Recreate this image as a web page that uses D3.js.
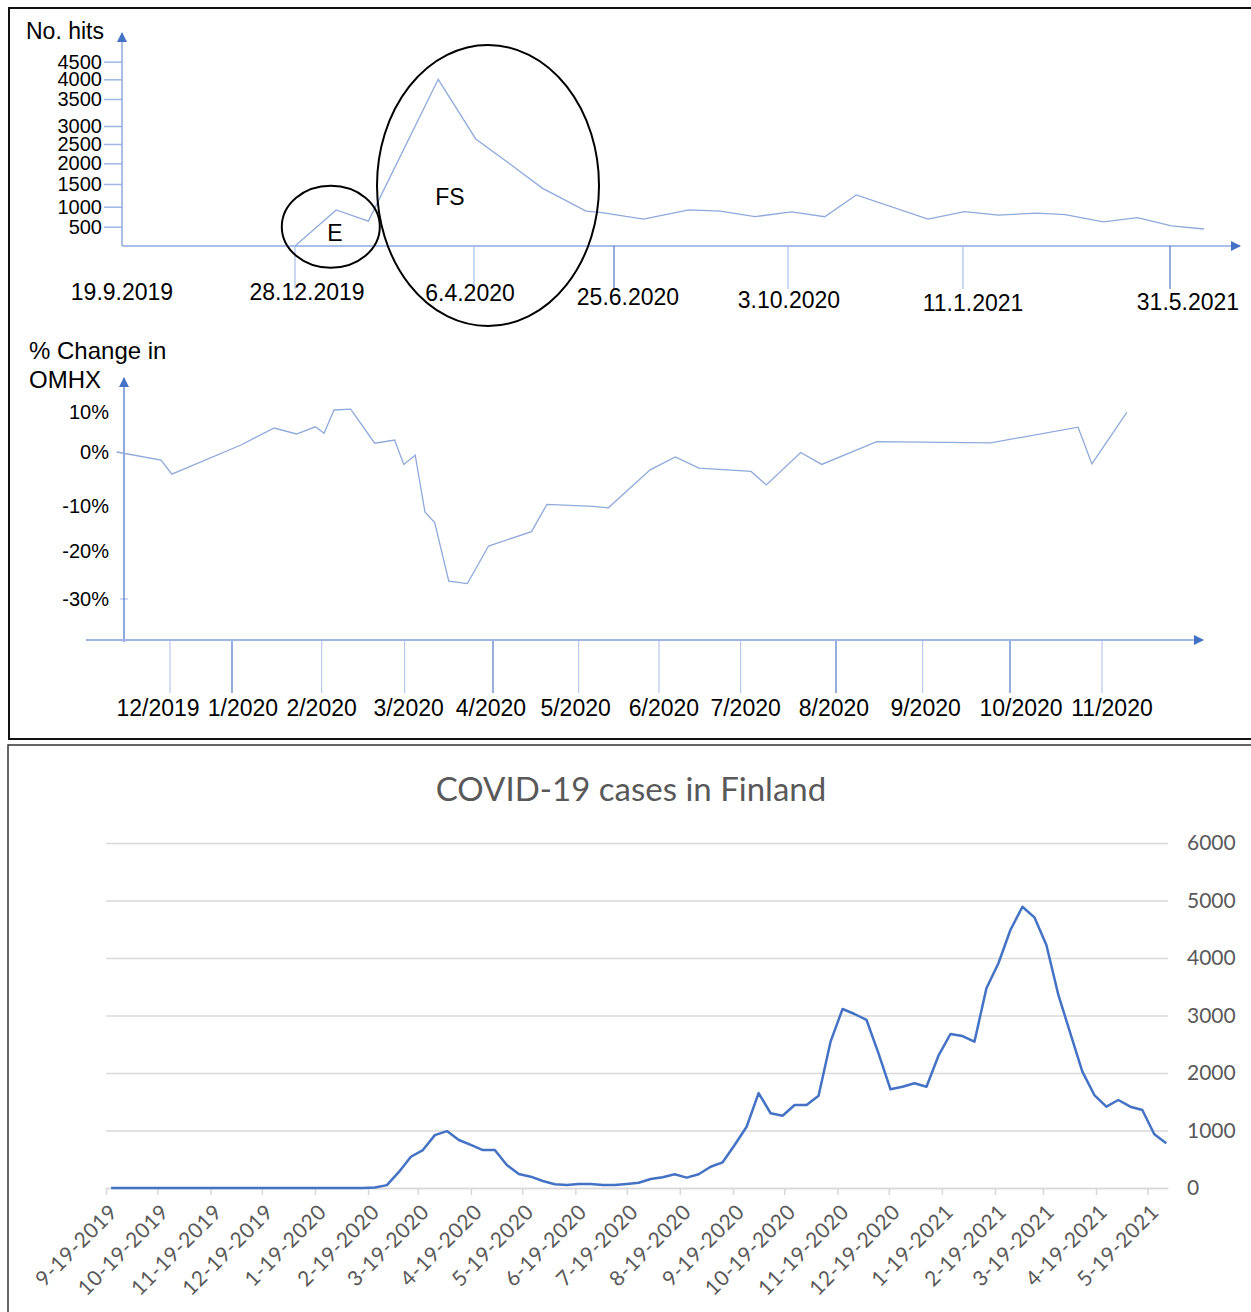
<!DOCTYPE html>
<html>
<head>
<meta charset="utf-8">
<script src="https://cdn.jsdelivr.net/npm/d3@7"></script>
<style>
  body { margin: 0; background: #fff; }
  svg { display: block; }
</style>
</head>
<body>
<div class="graph"></div>
<script>
// ---- panel 1: No. hits ----
var hitDates = ["2019-12-28","2020-01-20","2020-02-07","2020-03-17","2020-04-07","2020-04-26","2020-05-15",
  "2020-06-09","2020-06-18","2020-07-12","2020-08-07","2020-08-25","2020-09-14","2020-10-05","2020-10-24",
  "2020-11-11","2020-12-22","2021-01-12","2021-02-04","2021-03-02","2021-03-21","2021-04-16","2021-05-09",
  "2021-06-01","2021-06-23"];
var hitValues = [0,920,640,4000,2640,2000,1410,890,850,690,920,890,750,870,750,1260,690,875,790,840,800,620,725,520,440];
var hitTicks = [500,1000,1500,2000,2500,3000,3500,4000,4500];
var hitAxisDates = ["2019-09-19","2019-12-28","2020-04-06","2020-06-25","2020-10-03","2021-01-11","2021-05-31"];
var hitAxisLabels = ["19.9.2019","28.12.2019","6.4.2020","25.6.2020","3.10.2020","11.1.2021","31.5.2021"];
var circled = [{label: "E", date: "2020-01-17", v: 500}, {label: "FS", date: "2020-04-14", v: 1467}];

// ---- panel 2: % change in OMHX ----
var omhxMonth = [-0.86,-0.145,0.03,1.10,1.47,1.72,1.93,2.03,2.15,2.35,2.64,2.88,2.99,3.12,3.23,3.34,3.50,3.71,
  3.95,4.45,4.63,5.18,5.37,5.89,6.20,6.49,7.11,7.27,7.63,7.85,8.47,9.78,10.74,10.89,11.27];
var omhxChange = [0,-1.5,-4.1,1.75,6,4.5,6.3,4.7,10.5,10.7,2.2,3,-2.3,-0.6,-11.3,-13.7,-26.3,-26.8,
  -18.9,-15.7,-9.7,-10.1,-10.4,-3.3,-0.9,-3.0,-3.6,-6.1,-0.1,-2.3,2.6,2.3,6.2,-2.2,9.9];
var monthLabels = ["12/2019","1/2020","2/2020","3/2020","4/2020","5/2020","6/2020","7/2020","8/2020","9/2020","10/2020","11/2020"];
var pctTicks = [10, 0, -10, -20, -30];

// ---- panel 3: COVID-19 cases in Finland (weekly) ----
var covidStart = "2019-09-22";
var covidCases = [0,0,0,0,0,0,0,0,0,0,0,0,0,0,0,0,0,0,0,0,0,0,10,50,280,544,660,920,990,835,750,660,660,400,243,197,
  122,64,52,70,70,52,52,70,92,157,186,238,180,238,370,447,748,1066,1650,1300,1257,1443,1443,1605,2545,3113,3026,
  2922,2342,1716,1762,1821,1762,2301,2678,2643,2545,3473,3908,4487,4892,4707,4226,3357,2690,2023,1617,1414,1530,
  1414,1357,934,777];
var covidTickLabels = ["9-19-2019","10-19-2019","11-19-2019","12-19-2019","1-19-2020","2-19-2020","3-19-2020",
  "4-19-2020","5-19-2020","6-19-2020","7-19-2020","8-19-2020","9-19-2020","10-19-2020","11-19-2020","12-19-2020",
  "1-19-2021","2-19-2021","3-19-2021","4-19-2021","5-19-2021"];
var caseTicks = [0,1000,2000,3000,4000,5000,6000];

var parseDay = d3.timeParse("%Y-%m-%d");
var parseUs = d3.timeParse("%m-%d-%Y");
var arial = "'Liberation Sans', Arial, sans-serif";
var calib = "Lato, 'Open Sans', sans-serif";

var svg = d3.select(".graph").append("svg")
    .attr("width", 1251)
    .attr("height", 1312);

svg.append("rect").attr("width", 1251).attr("height", 1312).attr("fill", "#fff");

var defs = svg.append("defs");
defs.append("marker")
    .attr("id", "arrow")
    .attr("viewBox", "0 0 10 10")
    .attr("refX", 9).attr("refY", 5)
    .attr("markerWidth", 11).attr("markerHeight", 10)
    .attr("markerUnits", "userSpaceOnUse")
    .attr("orient", "auto")
  .append("path")
    .attr("d", "M0,0L10,5L0,10z")
    .attr("fill", "#4472c4");

// frames
svg.append("rect").attr("x", 9).attr("y", 8).attr("width", 1270).attr("height", 731)
    .attr("fill", "none").attr("stroke", "#111").attr("stroke-width", 2);
svg.append("rect").attr("x", 8).attr("y", 745).attr("width", 1270).attr("height", 600)
    .attr("fill", "none").attr("stroke", "#333").attr("stroke-width", 1.5);

// ================= panel 1 =================
var x1 = d3.scaleTime()
    .domain(hitAxisDates.map(parseDay))
    .range([122, 295, 474, 614, 788, 963, 1170]);
var y1 = d3.scaleLinear()
    .domain([0, 500, 1000, 1500, 2000, 2500, 3000, 3500, 4000, 4500])
    .range([246, 226.7, 206.7, 184, 163.3, 144, 126, 99, 79.3, 61.7]);

var p1 = svg.append("g");

var yAxis1 = p1.append("g")
    .attr("transform", "translate(122,0)")
    .call(d3.axisLeft(y1).tickValues(hitTicks).tickSize(18).tickPadding(2).tickFormat(d3.format("d")));
yAxis1.select(".domain").remove();
yAxis1.selectAll("line").attr("stroke", "#9fb7e6").attr("stroke-width", 1.5);
yAxis1.selectAll("text").attr("font-family", arial).attr("font-size", 20).attr("fill", "#000");

p1.append("line").attr("x1", 122).attr("y1", 246).attr("x2", 122).attr("y2", 33)
    .attr("stroke", "#8faadc").attr("stroke-width", 1.5).attr("marker-end", "url(#arrow)");
p1.append("line").attr("x1", 122).attr("y1", 246).attr("x2", 1240).attr("y2", 246)
    .attr("stroke", "#a9bfe9").attr("stroke-width", 1.8).attr("marker-end", "url(#arrow)");

var hitLabelDx = [0, 12, -4, 14, 1, 10, 18];
var hitLabelY = [300, 300, 301, 305, 308, 311, 310];
var hitTickDark = [false, false, false, true, false, false, true];
hitAxisDates.forEach(function(d, i) {
  var xx = x1(parseDay(d));
  if (i > 0) {
    p1.append("line").attr("x1", xx).attr("x2", xx).attr("y1", 246).attr("y2", 289)
        .attr("stroke", hitTickDark[i] ? "#4f79c8" : "#a9bfe9").attr("stroke-width", 1.2);
  }
  p1.append("text")
      .attr("x", xx + hitLabelDx[i]).attr("y", hitLabelY[i])
      .attr("text-anchor", "middle")
      .attr("font-family", arial).attr("font-size", 23)
      .text(hitAxisLabels[i]);
});

var hits = hitDates.map(function(d, i) { return {date: parseDay(d), v: hitValues[i]}; });
p1.append("path")
    .datum(hits)
    .attr("fill", "none")
    .attr("stroke", "#8eaadb")
    .attr("stroke-width", 1.3)
    .attr("d", d3.line().x(function(d) { return x1(d.date); }).y(function(d) { return y1(d.v); }));

p1.append("text").attr("x", 26).attr("y", 39)
    .attr("font-family", arial).attr("font-size", 23).text("No. hits");

var circleR = [{rx: 49, ry: 41, dx: 4, dy: 14}, {rx: 111, ry: 140.5, dx: -38, dy: 20}];
circled.forEach(function(c, i) {
  var cx = x1(parseDay(c.date)), cy = y1(c.v);
  p1.append("ellipse").attr("cx", cx).attr("cy", cy)
      .attr("rx", circleR[i].rx).attr("ry", circleR[i].ry)
      .attr("fill", "none").attr("stroke", "#000").attr("stroke-width", 2);
  p1.append("text").attr("x", cx + circleR[i].dx).attr("y", cy + circleR[i].dy)
      .attr("text-anchor", "middle")
      .attr("font-family", arial).attr("font-size", 23).text(c.label);
});

// ================= panel 2 =================
var x2 = d3.scaleLinear()
    .domain(d3.range(12))
    .range([170, 232, 321.6, 404.6, 493, 578.6, 659, 740.6, 836, 922.6, 1010, 1102]);
var y2 = d3.scaleLinear()
    .domain([10, 0, -10, -20, -30])
    .range([412, 452, 506, 551, 599]);

var p2 = svg.append("g");

p2.append("text").attr("x", 29).attr("y", 359)
    .attr("font-family", arial).attr("font-size", 24).text("% Change in");
p2.append("text").attr("x", 29).attr("y", 388)
    .attr("font-family", arial).attr("font-size", 24).text("OMHX");

var yAxis2 = p2.append("g")
    .attr("transform", "translate(124,0)")
    .call(d3.axisLeft(y2).tickValues(pctTicks).tickSize(0).tickPadding(15)
        .tickFormat(function(d) { return d + "%"; }));
yAxis2.select(".domain").remove();
yAxis2.selectAll("text").attr("font-family", arial).attr("font-size", 20).attr("fill", "#000");
p2.append("line").attr("x1", 120).attr("x2", 128).attr("y1", y2(-30)).attr("y2", y2(-30))
    .attr("stroke", "#9fb7e6");

p2.append("line").attr("x1", 124).attr("y1", 642).attr("x2", 124).attr("y2", 378)
    .attr("stroke", "#4472c4").attr("stroke-width", 1.2).attr("marker-end", "url(#arrow)");
p2.append("line").attr("x1", 86).attr("y1", 640).attr("x2", 1203).attr("y2", 640)
    .attr("stroke", "#9fb5e3").attr("stroke-width", 2).attr("marker-end", "url(#arrow)");

var monthDx = [-12, 11, 0, 4, -2, -3, 5, 5, -2, 3, 11, 10];
var monthDark = [false, true, false, false, true, false, false, false, true, false, true, false];
monthLabels.forEach(function(m, i) {
  var xx = x2(i);
  p2.append("line").attr("x1", xx).attr("x2", xx).attr("y1", 641).attr("y2", 693)
      .attr("stroke", monthDark[i] ? "#4f79c8" : "#b7c9ec").attr("stroke-width", 1.2);
  p2.append("text").attr("x", xx + monthDx[i]).attr("y", 716)
      .attr("text-anchor", "middle")
      .attr("font-family", arial).attr("font-size", 23)
      .text(m);
});

var omhx = omhxMonth.map(function(m, i) { return {m: m, v: omhxChange[i]}; });
p2.append("path")
    .datum(omhx)
    .attr("fill", "none")
    .attr("stroke", "#8eaadb")
    .attr("stroke-width", 1.3)
    .attr("d", d3.line().x(function(d) { return x2(d.m); }).y(function(d) { return y2(d.v); }));

// ================= panel 3 =================
var x3 = d3.scaleTime()
    .domain([parseDay("2019-09-19"), parseDay("2021-05-31")])
    .range([106, 1168]);
var y3 = d3.scaleLinear().domain([0, 6000]).range([1188, 843]);

var p3 = svg.append("g");

p3.append("text").attr("x", 631).attr("y", 801)
    .attr("text-anchor", "middle")
    .attr("font-family", calib).attr("font-size", 33).attr("fill", "#595959")
    .text("COVID-19 cases in Finland");

var grid = p3.append("g")
    .attr("transform", "translate(1168,0)")
    .call(d3.axisRight(y3).tickValues(caseTicks).tickSize(-(1168 - 106)).tickPadding(19)
        .tickFormat(d3.format("d")));
grid.select(".domain").remove();
grid.selectAll("line").attr("stroke", "#d9d9d9").attr("stroke-width", 1.6);
grid.selectAll("text").attr("font-family", calib).attr("font-size", 21).attr("fill", "#595959");

var tickDates = covidTickLabels.map(parseUs);
var xAxis3 = p3.append("g")
    .attr("transform", "translate(0,1188)")
    .call(d3.axisBottom(x3).tickValues(tickDates).tickSize(7).tickSizeOuter(0)
        .tickFormat(function(d, i) { return covidTickLabels[i]; }));
xAxis3.select(".domain").attr("stroke", "#d9d9d9").attr("stroke-width", 1.6);
xAxis3.selectAll("line").attr("stroke", "#d9d9d9").attr("stroke-width", 1.6);
xAxis3.selectAll("text")
    .attr("font-family", calib).attr("font-size", 21).attr("fill", "#595959")
    .attr("letter-spacing", 0.5)
    .attr("text-anchor", "end")
    .attr("y", 0).attr("dy", "0.35em")
    .attr("transform", "translate(7,20) rotate(-45)");

var start = parseDay(covidStart);
var cases = covidCases.map(function(v, i) { return {date: d3.timeDay.offset(start, 7 * i), v: v}; });
p3.append("path")
    .datum(cases)
    .attr("fill", "none")
    .attr("stroke", "#4472c4")
    .attr("stroke-width", 2.5)
    .attr("stroke-linejoin", "round")
    .attr("d", d3.line().x(function(d) { return x3(d.date); }).y(function(d) { return y3(d.v); }));
</script>
</body>
</html>
